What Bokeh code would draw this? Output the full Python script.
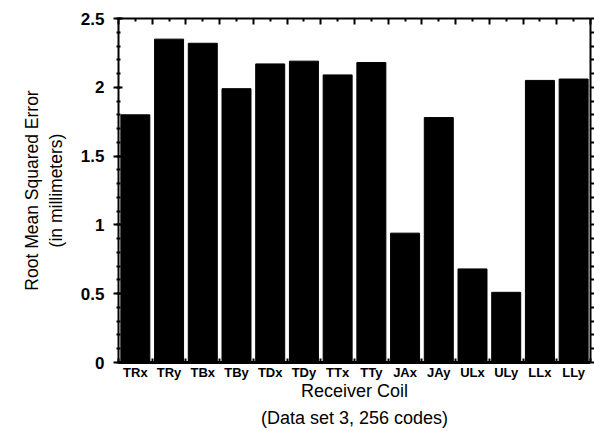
from bokeh.plotting import figure
from bokeh.models import Range1d, LinearAxis, FixedTicker
from bokeh.embed import file_html
from bokeh.resources import INLINE

coils = ["TRx", "TRy", "TBx", "TBy", "TDx", "TDy", "TTx", "TTy",
         "JAx", "JAy", "ULx", "ULy", "LLx", "LLy"]
rmse_mm = [1.80, 2.35, 2.32, 1.99, 2.17, 2.19, 2.09, 2.18,
           0.94, 1.78, 0.68, 0.51, 2.05, 2.06]
y_ticks = [0, 0.5, 1, 1.5, 2, 2.5]
y_title = "Root Mean Squared Error\n(in millimeters)"
x_title = "Receiver Coil\n(Data set 3, 256 codes)"

FONT = "Liberation Sans"
H = 431

n = len(coils)
centers = [i + 0.5 for i in range(n)]          # slot centre of each coil
bounds = [float(i) for i in range(n + 1)]      # slot boundaries
fine = [i / 10 for i in range(26)]

p = figure(width=594, height=H, x_range=Range1d(0, n),
           y_range=Range1d(0, 2.5), output_backend="svg", toolbar_location=None,
           min_border_left=118, min_border_right=0, min_border_top=18,
           min_border_bottom=69, outline_line_color=None,
           background_fill_color="white", border_fill_color="white")

p.vbar(x=centers, top=rmse_mm, width=0.86, color="black")

p.xgrid.visible = False
p.ygrid.visible = False

# bottom axis: coil names at slot centres, small inward ticks at boundaries
xa = p.xaxis[0]
xa.ticker = FixedTicker(ticks=centers, minor_ticks=bounds)
xa.major_label_overrides = {c: name for c, name in zip(centers, coils)}
xa.axis_line_width = 3
xa.axis_line_color = "black"
xa.major_tick_line_color = None
xa.major_tick_out = 0
xa.major_tick_in = 0
xa.minor_tick_in = 4
xa.minor_tick_out = 0
xa.minor_tick_line_width = 2
xa.minor_tick_line_color = "black"
xa.major_label_text_font = FONT
xa.major_label_text_font_style = "bold"
xa.major_label_text_font_size = "13px"
xa.major_label_standoff = 2
xa.major_label_text_color = "black"
xa.axis_label = x_title
xa.axis_label_text_font = FONT
xa.axis_label_text_font_style = "normal"
xa.axis_label_text_font_size = "18px"
xa.axis_label_text_line_height = 1.35
xa.axis_label_text_color = "black"
xa.axis_label_standoff = -2

# left axis
ya = p.yaxis[0]
ya.ticker = FixedTicker(ticks=y_ticks, minor_ticks=fine)
ya.axis_line_width = 2
ya.axis_line_color = "black"
ya.major_tick_in = 4
ya.major_tick_out = 5
ya.major_tick_line_width = 2
ya.minor_tick_in = 2
ya.minor_tick_out = 2
ya.minor_tick_line_width = 2
ya.major_label_text_font = FONT
ya.major_label_text_font_style = "bold"
ya.major_label_text_font_size = "17px"
ya.major_label_standoff = 9
ya.major_label_text_color = "black"
ya.axis_label = y_title
ya.axis_label_text_font = FONT
ya.axis_label_text_font_style = "normal"
ya.axis_label_text_font_size = "17.5px"
ya.axis_label_text_color = "black"
ya.axis_label_standoff = 12

# top axis with ticks at slot boundaries and centres
top = LinearAxis(ticker=FixedTicker(ticks=bounds, minor_ticks=centers))
top.major_label_overrides = {b: "" for b in bounds}
top.axis_line_width = 2
top.major_tick_in = 6
top.major_tick_out = 0
top.major_tick_line_width = 2
top.minor_tick_in = 3
top.minor_tick_out = 0
top.minor_tick_line_width = 2
top.major_label_standoff = 0
p.add_layout(top, "above")

# right axis with fine ticks
right = LinearAxis(ticker=FixedTicker(ticks=fine))
right.major_label_overrides = {t: "" for t in fine}
right.axis_line_width = 2
right.major_tick_in = 0
right.major_tick_out = 4
right.major_tick_line_width = 2
right.minor_tick_line_color = None
right.major_label_standoff = 0
p.add_layout(right, "right")

open("out.html", "w").write(file_html(p, INLINE))
